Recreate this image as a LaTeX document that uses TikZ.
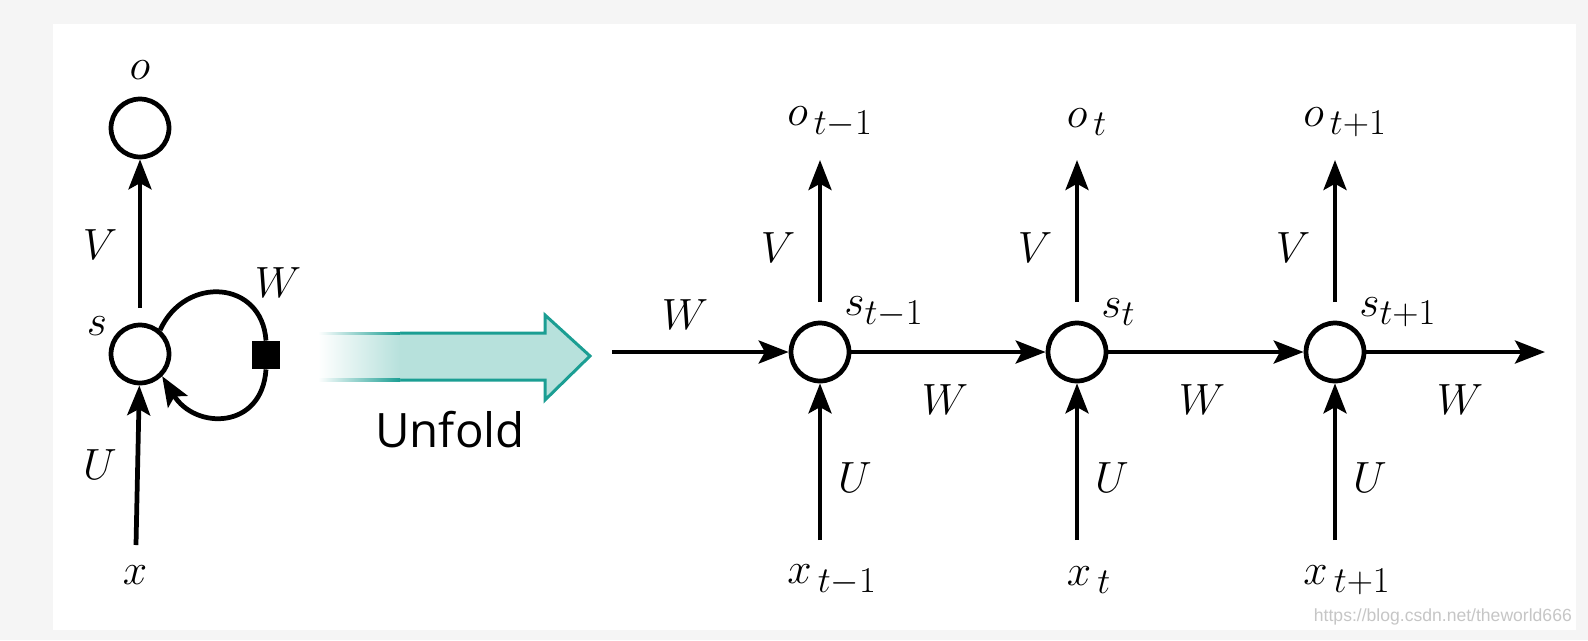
\documentclass[tikz,border=0pt]{standalone}
\usepackage{fontspec}
\newfontfamily\unfoldfont{Open Sans}
\newfontfamily\markfont{Liberation Sans}
\usetikzlibrary{arrows.meta}
\definecolor{tealfill}{HTML}{B7E1DC}
\definecolor{tealline}{HTML}{1B9E93}
\tikzset{
  unit/.style={circle, draw, line width=2.7pt, minimum size=33pt, inner sep=0pt},
  link/.style={line width=2.7pt, -{Stealth[length=17pt, width=13pt, inset=3.5pt]}},
  lbl/.style={font=\fontsize{29}{31}\selectfont, inner sep=0pt}
}
\begin{document}
\begin{tikzpicture}[x=0.02cm, y=-0.02cm]
  % background and panel
  \fill[gray!8] (0,0) rectangle (1588,640);
  \fill[white] (53,24) rectangle (1576,630);

  % folded network
  \node[unit] (o) at (140,128) {};
  \node[unit] (s) at (140,354) {};
  \node[lbl] at (140,70) {$o$};
  \node[lbl] at (97,326) {$s$};
  \coordinate (sV) at (140,308);
  \draw[link] (sV) -- (o);
  \node[lbl] at (100,245) {$V$};
  \coordinate (xin) at (136,545);
  \draw[link] (xin) -- (s);
  \node[lbl] at (100,465) {$U$};
  \node[lbl] at (135,575) {$x$};
  \node[fill=black, minimum size=16pt, inner sep=0pt] (sq) at (266,355) {};
  \draw[line width=2.7pt] (s.50) .. controls (185,275) and (262,280) .. (sq.north);
  \draw[link] (sq.south) .. controls (262,430) and (195,430) .. (s.-45);
  \node[lbl] at (278,283) {$W$};

  % unfold arrow
  \coordinate (ua) at (318,333);
  \fill[tealfill] (400,333) -- (545,333) -- (545,315) -- (590,356) -- (545,400) -- (545,380) -- (400,380) -- cycle;
  \draw[tealline, line width=1.7pt] (400,333) -- (545,333) -- (545,315) -- (590,356) -- (545,400) -- (545,380) -- (400,380);
  \shade[left color=white, right color=tealfill] (ua) rectangle (400,380);
  \shade[left color=white, right color=tealline] (318,332) rectangle (400,334.5);
  \shade[left color=white, right color=tealline] (318,378.5) rectangle (400,381);
  \node[font=\unfoldfont\fontsize{27}{29}\selectfont] (unfold) at (450,430) {Unfold};

  % unfolded network
  \coordinate (win) at (612,352);
  \node[lbl] at (685,315) {$W$};
  \foreach \x/\sub/\nm in {820/t-1/a, 1077/t/b, 1335/t+1/c} {
    \node[unit] (s\nm) at (\x,352) {};
    \coordinate (v\nm) at (\x,302);
    \coordinate (o\nm) at (\x,160);
    \coordinate (i\nm) at (\x,540);
    \draw[link] (v\nm) -- (o\nm);
    \draw[link] (i\nm) -- (s\nm);
    \node[lbl, anchor=west] at (\x+24,312) {$s_{\sub}$};
    \node[lbl] at (\x+10,122) {$o_{\,\sub}$};
    \node[lbl] at (\x-42,248) {$V$};
    \node[lbl] at (\x+35,478) {$U$};
    \node[lbl] at (\x+12,580) {$x_{\,\sub}$};
    \node[lbl] at (\x+125,400) {$W$};
  }
  \draw[link] (win) -- (sa);
  \draw[link] (sa) -- (sb);
  \draw[link] (sb) -- (sc);
  \coordinate (wout) at (1545,352);
  \draw[link] (sc) -- (wout);

  \node[font=\markfont\fontsize{10}{12}\selectfont, text=gray!45, anchor=east] (mark) at (1578,617) {https://blog.csdn.net/theworld666};
\end{tikzpicture}
\end{document}
